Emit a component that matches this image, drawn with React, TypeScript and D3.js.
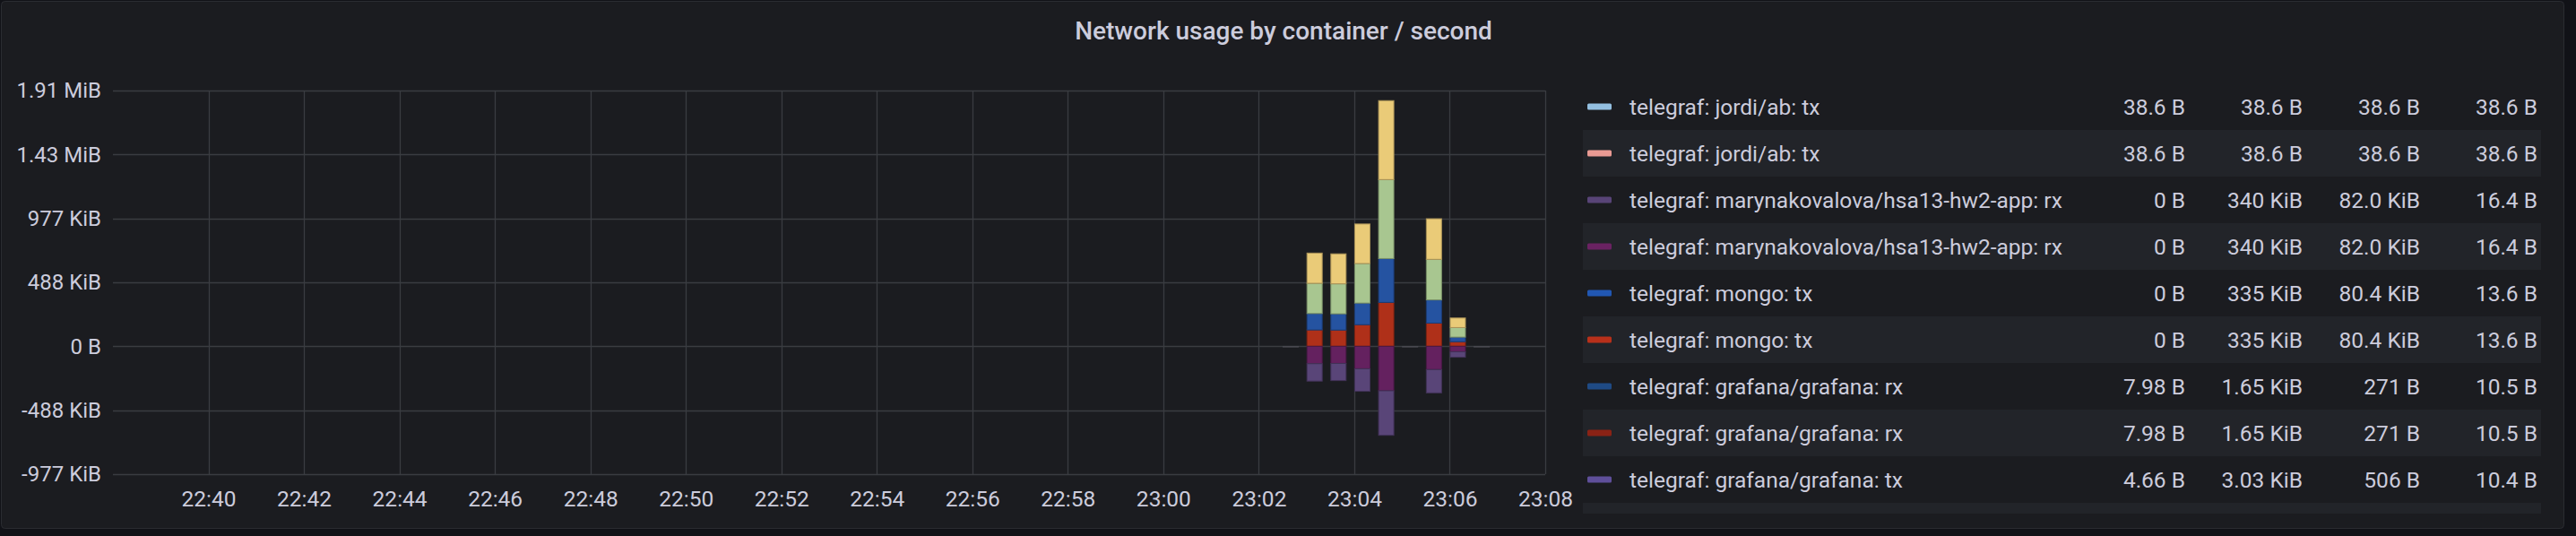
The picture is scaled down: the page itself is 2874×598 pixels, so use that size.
import { useEffect, useRef } from "react";
import * as d3 from "d3";

// bar timestamps (30s steps) and stacked values in KiB
const times = [
  "23:02:30",
  "23:03:00",
  "23:03:30",
  "23:04:00",
  "23:04:30",
  "23:05:00",
  "23:05:30",
  "23:06:00",
  "23:06:30",
];
const mongoTx = [0, 125, 124, 165, 335, 0, 177, 35, 0];
const appTx = [0, 231, 229, 302, 603, 0, 310, 73, 0];
const appRx = [0, 133, 131, 172, 340, 0, 178, 42, 0];

const yTickValues = [-1e6, -5e5, 0, 5e5, 1e6, 1.5e6, 2e6];
const yTickLabels = ["-977 KiB", "-488 KiB", "0 B", "488 KiB", "977 KiB", "1.43 MiB", "1.91 MiB"];
const xTickLabels = [
  "22:40", "22:42", "22:44", "22:46", "22:48", "22:50", "22:52", "22:54",
  "22:56", "22:58", "23:00", "23:02", "23:04", "23:06", "23:08",
];

const legendNames = [
  "telegraf: jordi/ab: tx",
  "telegraf: jordi/ab: tx",
  "telegraf: marynakovalova/hsa13-hw2-app: rx",
  "telegraf: marynakovalova/hsa13-hw2-app: rx",
  "telegraf: mongo: tx",
  "telegraf: mongo: tx",
  "telegraf: grafana/grafana: rx",
  "telegraf: grafana/grafana: rx",
  "telegraf: grafana/grafana: tx",
];
const legendColors = [
  "#93bfe0", "#e99a93", "#584477", "#6a2262", "#2157b3",
  "#b8301a", "#1f4a84", "#8a2215", "#5f4f9a",
];
const legendMin = ["38.6 B", "38.6 B", "0 B", "0 B", "0 B", "0 B", "7.98 B", "7.98 B", "4.66 B"];
const legendMax = ["38.6 B", "38.6 B", "340 KiB", "340 KiB", "335 KiB", "335 KiB", "1.65 KiB", "1.65 KiB", "3.03 KiB"];
const legendAvg = ["38.6 B", "38.6 B", "82.0 KiB", "82.0 KiB", "80.4 KiB", "80.4 KiB", "271 B", "271 B", "506 B"];
const legendCurrent = ["38.6 B", "38.6 B", "16.4 B", "16.4 B", "13.6 B", "13.6 B", "10.5 B", "10.5 B", "10.4 B"];

const stackKeys = ["mongoTx2", "mongoTx1", "appTx1", "appTx2", "appRx1", "appRx2"];
const stackColors = ["#af3019", "#2553a1", "#a8c690", "#eacb78", "#64215f", "#594578"];

const W = 2874;
const H = 598;
const FONT = "Roboto, 'Noto Sans', sans-serif";
const TEXT = "#ccccdc";

const App = () => {
  const svgRef = useRef(null);

  useEffect(() => {
    const svg = d3.select(svgRef.current);
    svg.selectAll("*").remove();

    const parse = d3.timeParse("%H:%M:%S");
    const parseTick = d3.timeParse("%H:%M");

    const margin = { top: 101, right: 1150, bottom: 69, left: 126 };

    const x = d3
      .scaleTime()
      .domain([parse("22:38:00"), parse("23:08:00")])
      .range([margin.left, W - margin.right]);

    const y = d3
      .scaleLinear()
      .domain([-1e6, 2e6])
      .range([H - margin.bottom, margin.top]);

    const table = times.map((t, i) => ({
      time: parse(t),
      mongoTx2: mongoTx[i] * 1024,
      mongoTx1: mongoTx[i] * 1024,
      appTx1: appTx[i] * 1024,
      appTx2: appTx[i] * 1024,
      appRx1: -appRx[i] * 1024,
      appRx2: -appRx[i] * 1024,
    }));

    const stacked = d3.stack().keys(stackKeys).offset(d3.stackOffsetDiverging)(table);

    // page + panel
    svg.append("rect").attr("width", W).attr("height", H).attr("fill", "#111217");
    svg
      .append("rect")
      .attr("x", 1.5)
      .attr("y", 1.5)
      .attr("width", 2859)
      .attr("height", 588)
      .attr("rx", 4)
      .attr("fill", "#1b1c20")
      .attr("stroke", "#2a2c31");

    svg
      .append("text")
      .attr("x", 1432)
      .attr("y", 44)
      .attr("text-anchor", "middle")
      .attr("fill", TEXT)
      .style("font-family", FONT)
      .style("font-size", "28px")
      .style("font-weight", 500)
      .text("Network usage by container / second");

    const xTicks = xTickLabels.map((d) => parseTick(d)).map((d) => {
      const t = parse("00:00:00");
      t.setHours(d.getHours(), d.getMinutes());
      return t;
    });

    // grid
    const grid = svg.append("g").attr("stroke", "#3a3c41").attr("stroke-width", 1.3);
    grid
      .selectAll("line.h")
      .data(yTickValues)
      .join("line")
      .attr("x1", margin.left)
      .attr("x2", W - margin.right)
      .attr("y1", (d) => Math.round(y(d)) + 0.5)
      .attr("y2", (d) => Math.round(y(d)) + 0.5);
    grid
      .selectAll("line.v")
      .data(xTicks)
      .join("line")
      .attr("x1", (d) => Math.round(x(d)) + 0.5)
      .attr("x2", (d) => Math.round(x(d)) + 0.5)
      .attr("y1", margin.top)
      .attr("y2", H - margin.bottom);

    // axes
    svg
      .append("g")
      .attr("transform", `translate(${margin.left},0)`)
      .call(
        d3
          .axisLeft(y)
          .tickValues(yTickValues)
          .tickFormat((d, i) => yTickLabels[i])
          .tickSize(0)
          .tickPadding(13)
      )
      .call((g) => g.select(".domain").remove())
      .call((g) =>
        g
          .selectAll("text")
          .attr("fill", TEXT)
          .style("font-family", FONT)
          .style("font-size", "24px")
      );

    svg
      .append("g")
      .attr("transform", `translate(0,${H - margin.bottom})`)
      .call(
        d3
          .axisBottom(x)
          .tickValues(xTicks)
          .tickFormat(d3.timeFormat("%H:%M"))
          .tickSize(0)
          .tickPadding(19)
      )
      .call((g) => g.select(".domain").remove())
      .call((g) =>
        g
          .selectAll("text")
          .attr("fill", TEXT)
          .style("font-family", FONT)
          .style("font-size", "24.5px")
      );

    // bars
    const barW = (t) => x(new Date(+t + 20300)) - x(t);

    svg
      .append("g")
      .selectAll("line")
      .data(table.filter((d) => d.mongoTx1 === 0 && d.appTx1 === 0 && d.appRx1 === 0))
      .join("line")
      .attr("x1", (d) => x(d.time))
      .attr("x2", (d) => x(d.time) + barW(d.time))
      .attr("y1", y(0) + 0.5)
      .attr("y2", y(0) + 0.5)
      .attr("stroke", "#4a4a52")
      .attr("stroke-width", 1.5);

    svg
      .append("g")
      .selectAll("g")
      .data(stacked)
      .join("g")
      .attr("fill", (d, i) => stackColors[i])
      .attr("stroke", (d, i) => d3.color(stackColors[i]).darker(0.9).formatHex())
      .selectAll("rect")
      .data((s) => s.filter((d) => d[1] !== d[0]))
      .join("rect")
      .attr("x", (d) => x(d.data.time) + 0.5)
      .attr("y", (d) => y(Math.max(d[0], d[1])))
      .attr("width", (d) => barW(d.data.time) - 1)
      .attr("height", (d) => Math.abs(y(d[0]) - y(d[1])));

    // legend
    const legendTop = 93;
    const rowH = 52;
    svg
      .append("clipPath")
      .attr("id", "legend-clip")
      .append("rect")
      .attr("x", 1760)
      .attr("y", 92)
      .attr("width", 1090)
      .attr("height", 481);

    const legend = svg.append("g").attr("clip-path", "url(#legend-clip)");

    legend
      .selectAll("rect.band")
      .data(d3.range(legendNames.length + 1).filter((i) => i % 2 === 1))
      .join("rect")
      .attr("x", 1766)
      .attr("y", (i) => legendTop + i * rowH)
      .attr("width", 1069)
      .attr("height", rowH)
      .attr("fill", "#222429");

    const rows = legend
      .selectAll("g.row")
      .data(legendNames)
      .join("g")
      .attr("transform", (d, i) => `translate(0,${legendTop + i * rowH + rowH / 2})`);

    rows
      .append("rect")
      .attr("x", 1771)
      .attr("y", -3.5)
      .attr("width", 27)
      .attr("height", 7)
      .attr("rx", 1.5)
      .attr("fill", (d, i) => legendColors[i]);

    rows
      .append("text")
      .attr("x", 1818)
      .attr("dy", "0.35em")
      .attr("fill", TEXT)
      .style("font-family", FONT)
      .style("font-size", "24.5px")
      .text((d) => d);

    const cols = [legendMin, legendMax, legendAvg, legendCurrent];
    const colRight = [2438, 2569, 2700, 2831];
    cols.forEach((col, c) => {
      rows
        .append("text")
        .attr("x", colRight[c])
        .attr("dy", "0.35em")
        .attr("text-anchor", "end")
        .attr("fill", TEXT)
        .style("font-family", FONT)
        .style("font-size", "24.5px")
        .text((d, i) => col[i]);
    });
  }, []);

  return (
    <svg
      ref={svgRef}
      width={W}
      height={H}
      style={{ position: "fixed", left: 0, top: 0, display: "block" }}
    />
  );
};

export default App;
